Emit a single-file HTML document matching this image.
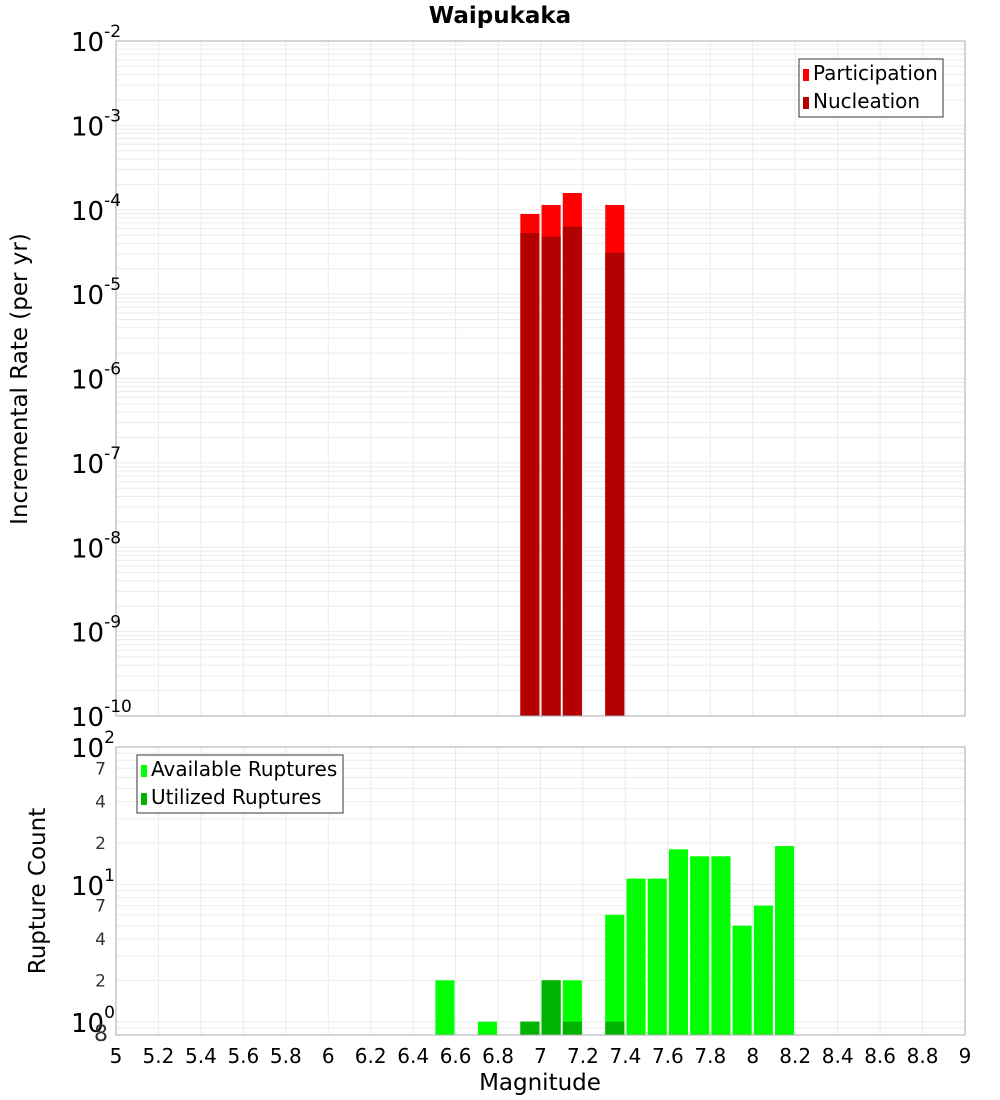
<!DOCTYPE html>
<html><head><meta charset="utf-8"><style>
body{margin:0;background:#fff;}
svg{display:block;font-family:"DejaVu Sans","Liberation Sans",sans-serif;}
</style></head><body>
<svg id="c" width="1000" height="1100"></svg>
<script>
const mags=[6.55,6.75,6.95,7.05,7.15,7.35,7.45,7.55,7.65,7.75,7.85,7.95,8.05,8.15];
const rateMags=[6.95,7.05,7.15,7.35];
const participation=[8.9e-5,1.14e-4,1.58e-4,1.14e-4];
const nucleation=[5.3e-5,4.8e-5,6.3e-5,3.1e-5];
const available=[2,1,1,2,2,6,11,11,18,16,16,5,7,19];
const utilized=[0,0,1,2,1,1,0,0,0,0,0,0,0,0];
const xTicks=[5,5.2,5.4,5.6,5.8,6,6.2,6.4,6.6,6.8,7,7.2,7.4,7.6,7.8,8,8.2,8.4,8.6,8.8,9];

const NS='http://www.w3.org/2000/svg';
const svg=document.getElementById('c');
function el(t,a,txt){const e=document.createElementNS(NS,t);for(const k in a)e.setAttribute(k,a[k]);if(txt!==undefined)e.textContent=txt;svg.appendChild(e);return e;}
const X0=116,X1=965;
const xs=m=>X0+(m-5)/4*(X1-X0);
const T0=41,T1=716;
const yTop=v=>T0+(-2-Math.log10(v))/8*(T1-T0);
const B0=747,B1=1035,bMin=Math.log10(0.8);
const yBot=v=>B0+(2-Math.log10(v))/(2-bMin)*(B1-B0);

for(let d=-10;d<-2;d++)for(let k=1;k<10;k++){const y=yTop(k*Math.pow(10,d));const g=el('line',{x1:X0,x2:X1,y1:y,y2:y,stroke:'#ebebeb','stroke-width':1});}
for(const t of xTicks){const x=xs(t);const g=el('line',{x1:x,x2:x,y1:T0,y2:T1,stroke:'#ebebeb'});
 const g2=el('line',{x1:x,x2:x,y1:B0,y2:B1,stroke:'#ebebeb'});}
for(let d=-1;d<2;d++)for(let k=1;k<10;k++){const v=k*Math.pow(10,d);if(v<0.8)continue;const y=yBot(v);const g=el('line',{x1:X0,x2:X1,y1:y,y2:y,stroke:'#ebebeb'});}

const bw=0.09/4*(X1-X0);
rateMags.forEach((m,i)=>{
 const x=xs(m)-bw/2;
 let y=yTop(participation[i]);
 const p=el('rect',{x:x,y:y,width:bw,height:T1-y,fill:'#ff0000'});
 
 y=yTop(nucleation[i]);
 const n=el('rect',{x:x,y:y,width:bw,height:T1-y,fill:'#b30000'});
 
});
mags.forEach((m,i)=>{
 const x=xs(m)-bw/2;
 if(available[i]>0){const y=yBot(available[i]);const a=el('rect',{x:x,y:y,width:bw,height:B1-y,fill:'#00ff00'});
 }
 if(utilized[i]>0){const y=yBot(utilized[i]);const u=el('rect',{x:x,y:y,width:bw,height:B1-y,fill:'#00b300'});
 }
});
let f=el('rect',{x:X0,y:T0,width:X1-X0,height:T1-T0,fill:'none',stroke:'#aaaaaa'});
f=el('rect',{x:X0,y:B0,width:X1-X0,height:B1-B0,fill:'none',stroke:'#aaaaaa'});

for(let d=-10;d<=-2;d++){const y=yTop(Math.pow(10,d));
 const t=el('text',{x:71,y:y+10,'font-size':26,fill:'#000'});
 t.innerHTML='10<tspan dy="-14" font-size="17">'+d+'</tspan>';}
[[2,747],[1,885],[0,1022]].forEach(([p,y])=>{const t=el('text',{x:71,y:y+10,'font-size':26,fill:'#000'});t.innerHTML='10<tspan dy="-14" font-size="17">'+p+'</tspan>';});
[[7,70],[4,40],[2,20],[7,7],[4,4],[2,2],[8,0.8]].forEach(([lab,v])=>{const t=el('text',{x:v===0.8?108:106,y:yBot(v)+6,'font-size':v===0.8?22:17,fill:'#333','text-anchor':'end'},String(lab));});
for(const m of xTicks){const t=el('text',{x:xs(m),y:1063,'font-size':20,'text-anchor':'middle',fill:'#000'},String(m));}

let t=el('text',{x:500,y:23,'font-size':23,'font-weight':'bold','text-anchor':'middle'},'Waipukaka');
t=el('text',{x:540,y:1090,'font-size':23,'text-anchor':'middle'},'Magnitude');
t=el('text',{x:0,y:0,'font-size':23,'text-anchor':'middle',transform:'translate(27,379) rotate(-90)'},'Incremental Rate (per yr)');
t=el('text',{x:0,y:0,'font-size':23,'text-anchor':'middle',transform:'translate(45,891) rotate(-90)'},'Rupture Count');

function legend(x,y,w,items,name){
 const b=el('rect',{x:x,y:y,width:w,height:58,fill:'#fff',stroke:'#333'});
 items.forEach(([lab,col],i)=>{const s=el('rect',{x:x+4,y:y+10+i*28,width:6,height:12,fill:col});
  const tt=el('text',{x:x+14,y:y+21+i*28,'font-size':20},lab);});
}
legend(799,59,144,[['Participation','#ff0000'],['Nucleation','#b30000']],'top-legend');
legend(137,755,206,[['Available Ruptures','#00ff00'],['Utilized Ruptures','#00b300']],'bottom-legend');
</script>
</body></html>
